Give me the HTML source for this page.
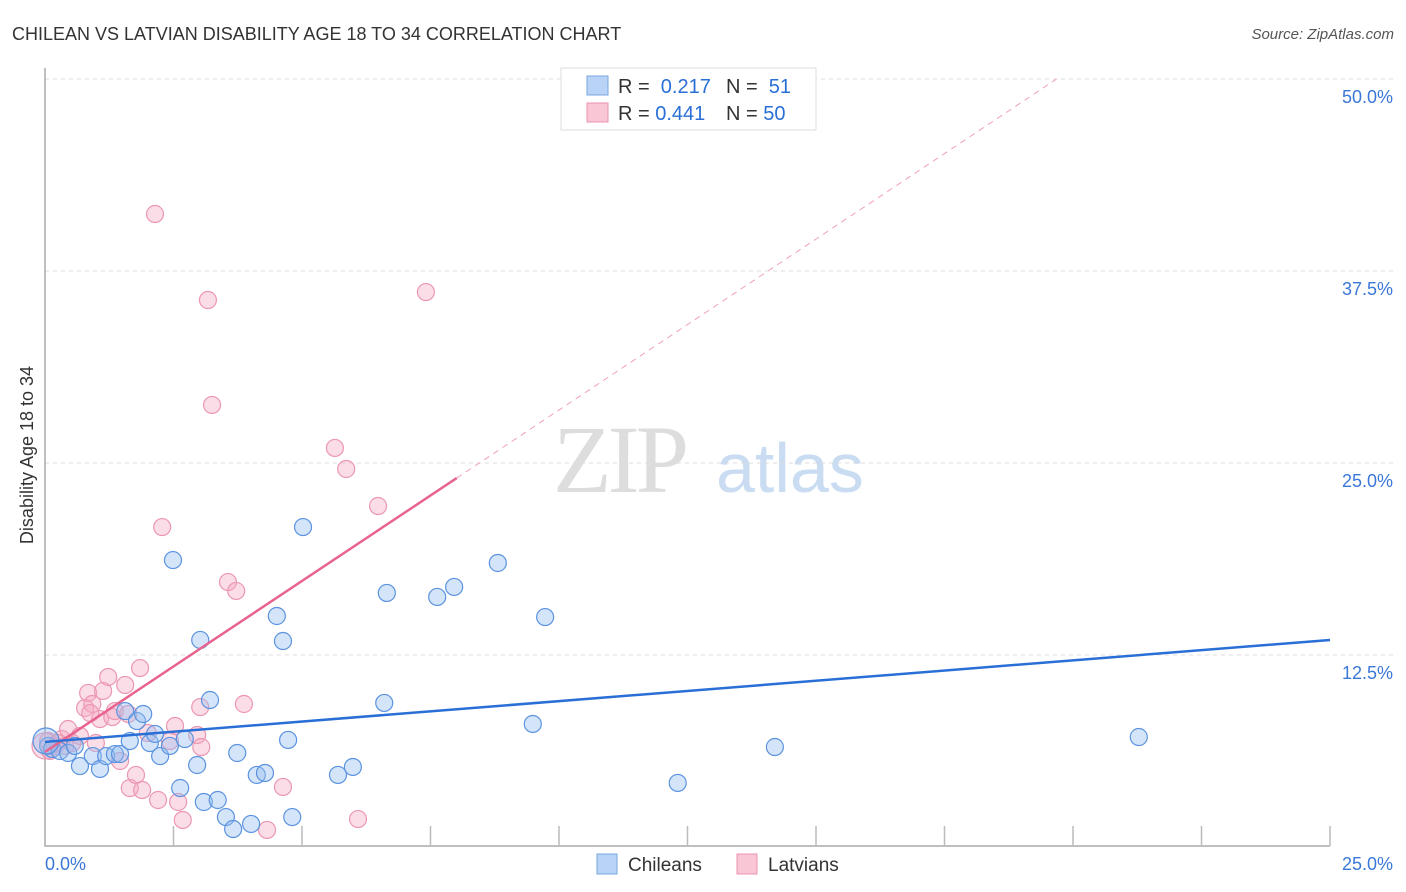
<!DOCTYPE html>
<html><head><meta charset="utf-8"><style>
body{margin:0;background:#fff;font-family:"Liberation Sans",sans-serif;}
svg{display:block}
</style></head><body>
<svg id="chart" width="1406" height="892" xmlns="http://www.w3.org/2000/svg">
<text x="12" y="40" font-size="18" fill="#333">CHILEAN VS LATVIAN DISABILITY AGE 18 TO 34 CORRELATION CHART</text>
<text x="1394" y="39" font-size="15" fill="#555" font-style="italic" text-anchor="end">Source: ZipAtlas.com</text>
<text x="33" y="455" font-size="18" fill="#333" text-anchor="middle" transform="rotate(-90 33 455)">Disability Age 18 to 34</text>
<g><text x="553" y="492" font-size="96" font-family="Liberation Serif,serif" fill="#ddd" letter-spacing="-4">ZIP</text><text x="716" y="492" font-size="70" fill="#c9dcf2">atlas</text></g>
<g id="grid"></g><g id="marks"></g>
<g>
<rect x="561" y="68" width="255" height="62" fill="#fff" stroke="#ddd"/>
<rect x="587" y="76" width="21" height="19" fill="#b8d3f5" stroke="#7aa7e0"/>
<rect x="587" y="103" width="21" height="19" fill="#f9c6d5" stroke="#eb93ad"/>
<text x="618" y="93" font-size="20" fill="#333">R = <tspan fill="#2a6fd6">&#160;0.217</tspan></text>
<text x="726" y="93" font-size="20" fill="#333">N = <tspan fill="#2a6fd6">&#160;51</tspan></text>
<text x="618" y="120" font-size="20" fill="#333">R = <tspan fill="#2a6fd6">0.441</tspan></text>
<text x="726" y="120" font-size="20" fill="#333">N = <tspan fill="#2a6fd6">50</tspan></text>
</g>
<g>
<rect x="597" y="854" width="20" height="20" fill="#b8d3f5" stroke="#7aa7e0"/>
<text x="628" y="871" font-size="19" fill="#333">Chileans</text>
<rect x="737" y="854" width="20" height="20" fill="#f9c6d5" stroke="#eb93ad"/>
<text x="768" y="871" font-size="19" fill="#333">Latvians</text>
</g>
</svg>
<script>
const yTicks=[12.5,25,37.5,50];
const yTickLabels=["12.5%","25.0%","37.5%","50.0%"];
const xTickLabels=["0.0%","25.0%"];
const chileanX=[0.06,0.14,0.29,0.45,0.58,0.68,0.93,1.07,1.19,1.36,1.46,1.56,1.65,1.79,1.91,2.04,2.14,2.24,2.43,2.49,2.63,2.72,2.96,3.02,3.09,3.21,3.36,3.52,3.66,3.74,4.01,4.12,4.28,4.51,4.63,4.73,4.81,5.02,5.70,5.99,6.60,6.65,7.63,7.96,8.81,9.49,9.73,12.31,14.20,21.28,0.02];
const chileanY=[6.58,6.38,6.25,6.12,6.58,5.27,5.92,5.08,5.92,6.05,6.05,8.85,6.90,8.20,8.66,6.77,7.36,5.92,6.58,18.68,3.84,7.03,5.34,13.48,2.93,9.57,3.06,1.95,1.17,6.12,1.50,4.69,4.82,15.04,13.41,6.97,1.95,20.83,4.69,5.21,9.38,16.54,16.28,16.93,18.49,8.01,14.97,4.17,6.51,7.16,6.90];
const latvianX=[0.06,0.19,0.33,0.45,0.53,0.68,0.78,0.84,0.92,0.99,1.07,1.13,1.23,1.31,1.36,1.46,1.56,1.62,1.65,1.77,1.85,1.89,2.00,2.14,2.20,2.28,2.43,2.53,2.59,2.68,2.96,3.02,3.04,3.17,3.25,3.56,3.72,3.87,4.32,4.63,5.64,5.86,6.09,6.48,7.41,0.0,0.10,0.25,0.39,0.88];
const latvianY=[6.90,6.58,7.03,7.68,6.77,7.23,9.05,10.03,9.31,6.77,8.33,10.16,11.07,8.46,8.85,5.60,10.55,8.66,3.84,4.69,11.65,3.71,7.42,41.21,3.06,20.83,6.90,7.88,2.93,1.76,7.29,9.11,6.51,35.61,28.78,17.25,16.67,9.31,1.11,3.91,25.98,24.61,1.82,22.20,36.13,6.58,6.25,6.77,6.58,8.72];
const chileanLine=[6.84,13.48];
const latvianLine=[6.19,24.02,8.01];
const X=v=>45+v/25*1285, Y=v=>847-v/50*768;
const NS="http://www.w3.org/2000/svg";
function mk(t,a,p){const e=document.createElementNS(NS,t);for(const k in a)e.setAttribute(k,a[k]);p.appendChild(e);return e;}
const g=document.getElementById('grid'),m=document.getElementById('marks');
yTicks.forEach((t,i)=>{
 const l=mk('line',{x1:45,x2:1395,y1:Y(t),y2:Y(t),stroke:'#ddd','stroke-dasharray':'4 4'},g);
 
 
 const tx=mk('text',{x:1393,y:Y(t)+24,'font-size':18,fill:'#3a78d8','text-anchor':'end'},g);
 tx.textContent=yTickLabels[i];
 
 
});
const ax=mk('path',{d:'M45 68V846H1330',stroke:'#aaa',fill:'none','stroke-width':1.5},g);


for(let i=1;i<=10;i++){const x=45+i*128.5;const t=mk('line',{x1:x,x2:x,y1:826,y2:846,stroke:'#bbb','stroke-width':1.5},g);
 
 }
[[69,'start'],[1393,'end']].forEach((p,i)=>{const t=mk('text',{x:p[0]-(i?0:24),y:870,'font-size':18,fill:'#3a78d8','text-anchor':p[1]},g);t.textContent=xTickLabels[i];
 
 });
function dots(xs,ys,fill,stroke,name){xs.forEach((x,i)=>{const big=x<0.1&&i>=xs.length-6;const c=mk('circle',{cx:X(x),cy:Y(ys[i]),r:big?13:8.5,fill:fill,stroke:stroke,'stroke-width':1.2},m);
 
 });}
dots(latvianX,latvianY,'rgba(246,170,195,0.4)','#ec97b2','latvian-point');
dots(chileanX,chileanY,'rgba(150,190,240,0.4)','#5b93e0','chilean-point');
const slope=(latvianLine[1]-latvianLine[0])/latvianLine[2];
const xEnd=(50-latvianLine[0])/slope;
const d1=mk('line',{x1:X(latvianLine[2]),y1:Y(latvianLine[1]),x2:X(xEnd),y2:Y(50),stroke:'#f0a0b8','stroke-dasharray':'6 5','stroke-width':1},m);


const l1=mk('line',{x1:X(0),y1:Y(latvianLine[0]),x2:X(latvianLine[2]),y2:Y(latvianLine[1]),stroke:'#e8648f','stroke-width':2.5},m);


const l2=mk('line',{x1:X(0),y1:Y(chileanLine[0]),x2:X(25),y2:Y(chileanLine[1]),stroke:'#2a6fd6','stroke-width':2.5},m);


</script>
</body></html>
